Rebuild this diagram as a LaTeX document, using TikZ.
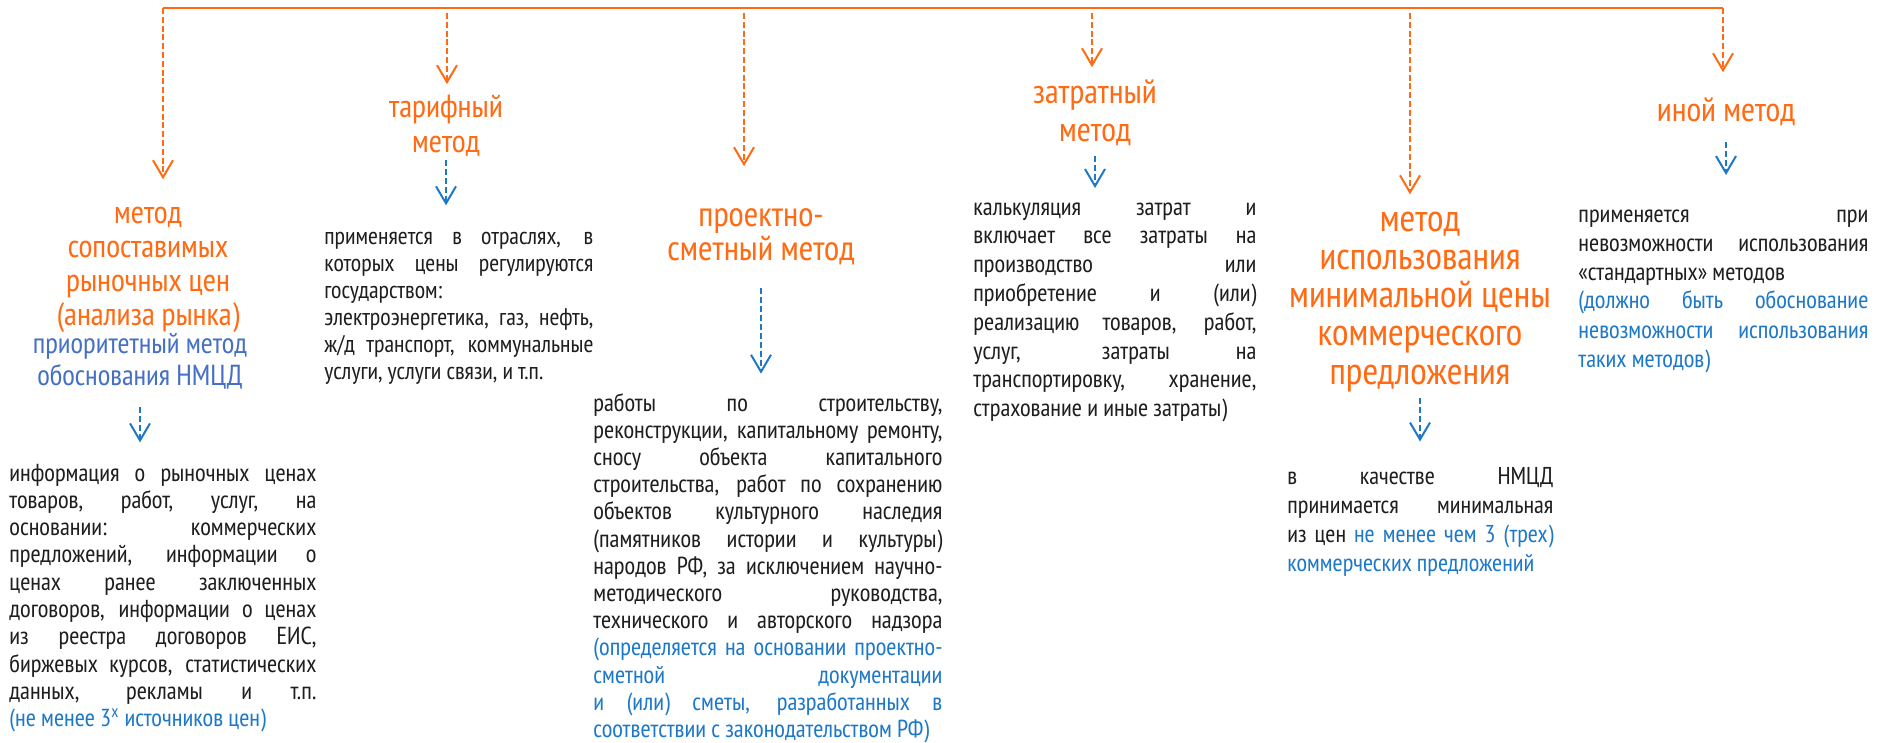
\documentclass[tikz,border=0pt]{standalone}
\usepackage{fontspec}
\setmainfont{PT Sans Narrow}
\usetikzlibrary{arrows.meta}
\newcommand{\jl}[1]{\leavevmode\hbox to\hsize{\spaceskip=0pt\xspaceskip=0pt #1}}
\begin{document}
\begin{tikzpicture}[x=0.5pt,y=-0.5pt,
  >={Straight Barb[length=8.5pt,width=10pt]},
  topline/.style={draw=methodorange, line width=1pt},
  orarrow/.style={draw=methodorange, line width=1pt, dash pattern=on 3pt off 1.4pt, ->},
  blarrow/.style={draw=notesblue, line width=1pt, dash pattern=on 3pt off 1.5pt, ->},
  head/.style={text=methodorange, align=center, inner sep=0pt, anchor=base},
  body/.style={text=bodygray, text width=#1, align=justify, inner sep=0pt, anchor=base west}]
\definecolor{methodorange}{RGB}{255,106,19}
\definecolor{notesblue}{RGB}{30,120,200}
\definecolor{prioblue}{RGB}{70,112,196}
\definecolor{bodygray}{RGB}{30,30,30}
\useasboundingbox (0,0) rectangle (1877,743);

% taps on the top line
\coordinate (t1) at (163,8);
\coordinate (t2) at (447,8);
\coordinate (t3) at (744,8);
\coordinate (t4) at (1092,8);
\coordinate (t6) at (1410,8);
\coordinate (t5) at (1723,8);
\draw[topline] (t1) -- (t5);

% method names (base = last line)
\node[head, font=\fontsize{16}{17}\selectfont] (msr) at (148,325) {метод\\сопоставимых\\рыночных цен\\(анализа рынка)};
\node[head, text=prioblue, font=\fontsize{14.5}{16}\selectfont] (msrnote) at (140,385) {приоритетный метод\\обоснования НМЦД};
\node[head, font=\fontsize{16}{17.5}\selectfont] (tarif) at (446,153) {тарифный\\метод};
\node[head, font=\fontsize{17.5}{17}\selectfont] (psm) at (761,260) {проектно-\\сметный метод};
\node[head, font=\fontsize{17}{19}\selectfont] (cost) at (1095,141.5) {затратный\\метод};
\node[head, font=\fontsize{17}{19}\selectfont] (other) at (1726,121.5) {иной метод};
\node[head, font=\fontsize{19}{19.1}\selectfont] (minp) at (1420,384) {метод\\использования\\минимальной цены\\коммерческого\\предложения};

% descriptions (base = first line)
\node[body=153.5pt, font=\fontsize{12.3}{13.65}\selectfont] (msrtxt) at (9,481) {%
\jl{информация о рыночных ценах}\\
\jl{товаров, работ, услуг, на}\\
\jl{основании: коммерческих}\\
\jl{предложений, информации о}\\
\jl{ценах ранее заключенных}\\
\jl{договоров, информации о ценах}\\
\jl{из реестра договоров ЕИС,}\\
\jl{биржевых курсов, статистических}\\
\jl{данных, рекламы и т.п.}\\
\textcolor{notesblue}{(не менее 3\textsuperscript{х} источников цен)}};
\node[body=134.5pt, font=\fontsize{12}{13.5}\selectfont] (tariftxt) at (324,244) {%
\jl{применяется в отраслях, в}\\
\jl{которых цены регулируются}\\
государством:\\
\jl{электроэнергетика, газ, нефть,}\\
\jl{ж/д транспорт, коммунальные}\\
услуги, услуги связи, и т.п.};
\node[body=174.5pt, font=\fontsize{12.3}{13.6}\selectfont] (psmtxt) at (593,411) {%
\jl{работы по строительству,}\\
\jl{реконструкции, капитальному ремонту,}\\
\jl{сносу объекта капитального}\\
\jl{строительства, работ по сохранению}\\
\jl{объектов культурного наследия}\\
\jl{(памятников истории и культуры)}\\
\jl{народов РФ, за исключением научно-}\\
\jl{методического руководства,}\\
\jl{технического и авторского надзора}\\
\color{notesblue}\jl{(определяется на основании проектно-}\\
\jl{сметной документации}\\
\jl{и (или) сметы, разработанных в}\\
соответствии с законодательством РФ)};
\node[body=141.5pt, font=\fontsize{12.3}{14.4}\selectfont] (costtxt) at (973,215) {%
\jl{калькуляция затрат и}\\
\jl{включает все затраты на}\\
\jl{производство или}\\
\jl{приобретение и (или)}\\
\jl{реализацию товаров, работ,}\\
\jl{услуг, затраты на}\\
\jl{транспортировку, хранение,}\\
страхование и иные затраты)};
\node[body=145pt, font=\fontsize{12.3}{14.5}\selectfont] (othertxt) at (1578,222) {%
\jl{применяется при}\\
\jl{невозможности использования}\\
«стандартных» методов\\
\color{notesblue}\jl{(должно быть обоснование}\\
\jl{невозможности использования}\\
таких методов)};
\node[body=133pt, font=\fontsize{12.2}{14.5}\selectfont] (minptxt) at (1287,484) {%
\jl{в качестве НМЦД}\\
\jl{принимается минимальная}\\
\jl{из цен \textcolor{notesblue}{не менее чем 3 (трех)}}\\
\textcolor{notesblue}{коммерческих предложений}};

% orange arrows from the top line
\draw[orarrow, shorten >=13.5pt] (t1) -- (t1 |- msr.north);
\draw[orarrow, shorten <=2.5pt, shorten >=5.5pt] (t2) -- (t2 |- tarif.north);
\draw[orarrow, shorten <=2.5pt, shorten >=20.75pt] (t3) -- (t3 |- psm.north);
\draw[orarrow, shorten <=2.5pt, shorten >=6pt] (t4) -- (t4 |- cost.north);
\draw[orarrow, shorten <=2.5pt, shorten >=8.5pt] (t6) -- (t6 |- minp.north);
\draw[orarrow, shorten >=12.5pt] (t5) -- (t5 |- other.north);

% blue arrows to the descriptions
\draw[blarrow, shorten <=9pt, shorten >=10.5pt] (msrnote.south) -- (msrnote.south |- msrtxt.north);
\draw[blarrow, shorten <=1.5pt, shorten >=13pt] (tarif.south) -- (tarif.south |- tariftxt.north);
\draw[blarrow, shorten <=11.5pt, shorten >=9.5pt] (psm.south) -- (psm.south |- psmtxt.north);
\draw[blarrow, shorten <=5pt, shorten >=7pt] (cost.south) -- (cost.south |- costtxt.north);
\draw[blarrow, shorten <=8pt, shorten >=17pt] (other.south) -- (other.south |- othertxt.north);
\draw[blarrow, shorten <=3pt, shorten >=12.5pt] (minp.south) -- (minp.south |- minptxt.north);
\end{tikzpicture}
\end{document}
